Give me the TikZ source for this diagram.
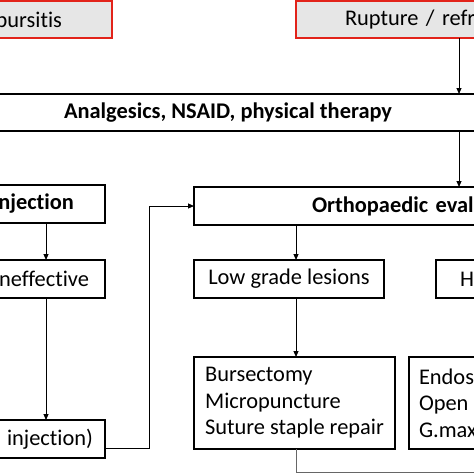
\documentclass[tikz,border=0pt]{standalone}
\usepackage{fontspec}
\setmainfont{Carlito}[Ligatures=NoCommon]
\usetikzlibrary{arrows.meta}
\definecolor{redc}{HTML}{E2231A}
\definecolor{boxgray}{HTML}{E6E6E6}
\definecolor{linegray}{HTML}{666666}
\begin{document}
\begin{tikzpicture}[x=1pt,y=-1pt,
  every node/.style={font=\fontsize{22.4}{26.5}\selectfont, inner ysep=0pt, outer sep=0pt},
  redbox/.style={draw=redc, fill=boxgray, line width=2.7pt, minimum height=37pt},
  thickbox/.style={draw=black, line width=2.4pt},
  thinbox/.style={draw=black, line width=1.1pt},
  bold/.style={font=\fontsize{22.4}{26.5}\selectfont\bfseries},
  arr/.style={line width=1pt, -{Triangle[length=6pt,width=5pt]}},
  plain/.style={line width=1pt, draw=linegray}]
\useasboundingbox (0,0) rectangle (474,474);
\clip (0,0) rectangle (474,474);
\fill[white] (0,0) rectangle (474,474);
% top boxes
\node[redbox, anchor=east, text width=150pt, align=right, inner xsep=50pt] (burs) at (112,19.5) {bursitis};
\node[redbox, anchor=west, text width=200pt, align=left, inner xsep=49pt] (rupt) at (296,19.5) {Rupture / refra};
% analgesics
\node[thickbox, bold, minimum width=556pt, minimum height=37pt] (anal) at (228,112.5) {Analgesics, NSAID, physical therapy};
% left column
\node[thickbox, bold, anchor=east, text width=150pt, align=right, inner xsep=31pt, minimum height=38pt] (inj) at (105,204) {njection};
\node[thinbox, anchor=east, text width=150pt, align=right, inner xsep=16pt, minimum height=38pt] (ineff) at (105,279) {neffective};
\node[thickbox, anchor=east, text width=150pt, align=right, inner xsep=12pt, minimum height=38pt] (inj2) at (105,439) {injection)};
% right part
\node[thickbox, bold, anchor=west, text width=220pt, align=left, inner xsep=118pt, minimum height=38pt] (ortho) at (194,206) {Orthopaedic eval};
\node[thinbox, anchor=west, minimum width=190pt, minimum height=38pt] (low) at (194,279) {Low grade lesions};
\node[thinbox, anchor=west, text width=150pt, align=left, inner xsep=24pt, minimum height=38pt] (high) at (436,279) {H};
\node[thickbox, anchor=north west, align=left, minimum width=201pt, minimum height=92pt] (surg) at (194,357) {Bursectomy\\Micropuncture\\Suture staple repair};
\node[thickbox, anchor=north west, text width=150pt, align=left, inner xsep=10pt, minimum height=92pt] (endo) at (409,357) {Endos\\Open\\G.max};
% columns for connectors
\coordinate (colR) at (459,0);
\coordinate (colL) at (46,0);
\coordinate (colM) at (296,0);
\coordinate (bend) at (149,448);
\coordinate (exitR) at (490,472);
% connectors
\draw[arr] (rupt.south -| colR) -- (anal.north -| colR);
\draw[arr] (anal.south -| colR) -- (ortho.north -| colR);
\draw[arr] (inj.south -| colL) -- (ineff.north -| colL);
\draw[arr] (ineff.south -| colL) -- (inj2.north -| colL);
\draw[arr] (inj2.east |- bend) -- (bend) |- (ortho.west);
\draw[arr] (ortho.south -| colM) -- (low.north -| colM);
\draw[arr] (low.south -| colM) -- (surg.north -| colM);
\draw[plain] (surg.south -| colM) |- (exitR);
\end{tikzpicture}
\end{document}
